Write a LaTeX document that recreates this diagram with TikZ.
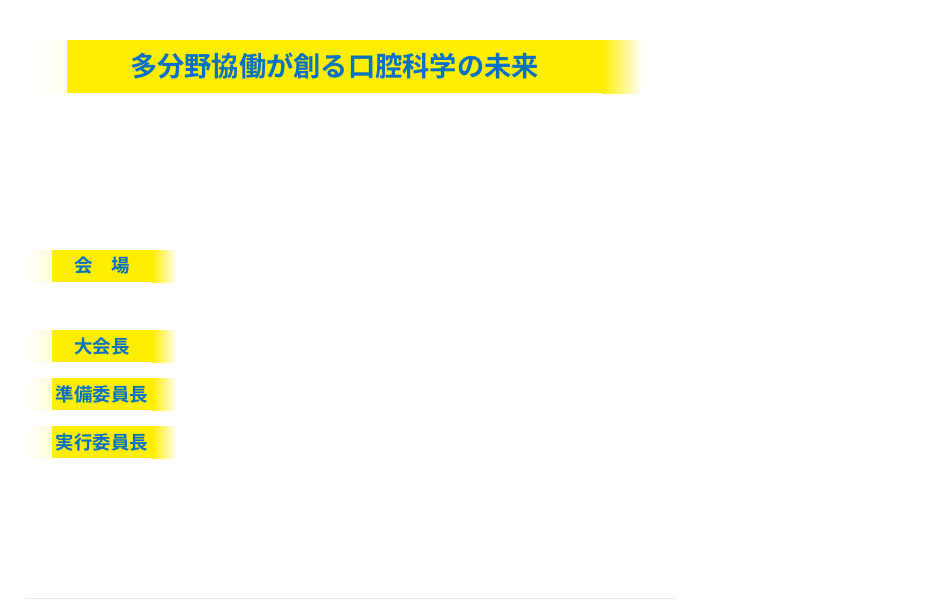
\documentclass[tikz,border=0pt]{standalone}
\usepackage{fontspec}
\newfontfamily\cjk{Noto Sans CJK JP}[BoldFont={* Bold}]
\usetikzlibrary{positioning}
\definecolor{baryellow}{RGB}{255,238,0}
\definecolor{textblue}{RGB}{0,112,200}
\definecolor{rulegray}{RGB}{235,235,235}
\tikzset{
  fadebar/.style={inner sep=0pt, outer sep=0pt, fill=baryellow,
    text=textblue, font=\cjk\bfseries,
    path picture={
      \shade[left color=white, right color=baryellow]
        (path picture bounding box.south west) rectangle
        ([xshift=#1]path picture bounding box.north west);
      \shade[left color=baryellow, right color=white]
        ([xshift=-#1]path picture bounding box.south east) rectangle
        (path picture bounding box.north east);
    }},
  titlebar/.style={fadebar=0.8cm, minimum width=12.3cm, minimum height=1.06cm, font=\cjk\bfseries\fontsize{15.5}{18}\selectfont},
  itembar/.style={fadebar=0.5cm, minimum width=3cm, minimum height=0.64cm, font=\cjk\bfseries\fontsize{10.5}{12}\selectfont}
}
\begin{document}
\begin{tikzpicture}[x=0.02cm,y=-0.02cm]
  \useasboundingbox[fill=white] (0,0) rectangle (950,600);
  % title
  \node[titlebar] (title) at (334.5,66.5) {多分野協働が創る口腔科学の未来};
  % item labels
  \node[itembar] (venue) at (102,266) {会\hspace{1em}場};
  \node[itembar] (president) at (102,346) {大会長};
  \node[itembar] (prep) at (102,394) {準備委員長};
  \node[itembar] (exec) at (102,442) {実行委員長};
  % bottom rule
  \draw[rulegray, line width=0.03cm] (25,598.5) -- (675,598.5);
\end{tikzpicture}
\end{document}
